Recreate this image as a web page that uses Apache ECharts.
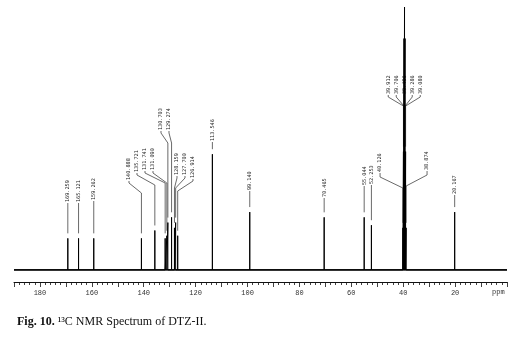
<!DOCTYPE html>
<html><head><meta charset="utf-8">
<script src="https://cdn.jsdelivr.net/npm/echarts@6/dist/echarts.min.js"></script>
<style>html,body{margin:0;padding:0;background:#fff}#c{width:528px;height:341px}</style>
</head><body><div id="c"></div>
<script>
// ---- data ----
const shifts = [169.259,165.121,159.262,140.888,135.721,131.741,131.090,130.703,129.274,128.159,127.700,126.914,113.546,99.140,70.465,55.044,52.253,40.126,39.912,39.706,39.496,39.286,39.080,38.874,20.167];
const intensities = [12,12,12,12,15,12,13,18,20,16,18,13,44,22,20,20,17,16,45,88,100,88,45,16,22];
const peakLabels = shifts.map(s => s.toFixed(3));
const axisTickLabels = [180,160,140,120,100,80,60,40,20];
const ppmMin = 0, ppmMax = 190;

// ---- label layout (style only) ----
const labelGroups = [
  {members:[0,1,2], anchorPpm:null, bottoms:[202,202,200]},
  {members:[3,4,5,6,7,8,9,10,11], anchorPpm:133.35, spacing:8, bottoms:[180,172,170,170,130,130,175,175,178], k1:3, k2:10},
  {members:[12], anchorPpm:null, bottoms:[141]},
  {members:[13], anchorPpm:null, bottoms:[190]},
  {members:[14], anchorPpm:null, bottoms:[197]},
  {members:[15,16], anchorPpm:null, bottoms:[185,184]},
  {members:[17,23], anchorPpm:39.87, spacing:47, bottoms:[172,170], k1:5, k2:11},
  {members:[18,19,20,21,22], anchorPpm:39.6, spacing:8, bottoms:[94,94,94,94,94], k1:3, k2:9},
  {members:[24], anchorPpm:null, bottoms:[194]}
];
const layoutByIdx = {};
labelGroups.forEach(g => {
  const n = g.members.length;
  g.members.forEach((m, i) => {
    layoutByIdx[m] = {
      anchorPpm: g.anchorPpm,
      offset: g.anchorPpm == null ? 0 : (i - (n - 1) / 2) * g.spacing,
      bottom: g.bottoms[i], k1: g.k1 || 0, k2: g.k2 || 0
    };
  });
});

// spectrum as stick peaks
const order = shifts.map((s, i) => i).sort((a, b) => shifts[b] - shifts[a]);
const spectrum = [[ppmMax, 0]];
order.forEach(i => { spectrum.push([shifts[i], 0], [shifts[i], intensities[i]], [shifts[i], 0]); });
spectrum.push([ppmMin, 0]);

const labelData = shifts.map((s, i) => [s, intensities[i], i]);

const chart = echarts.init(document.getElementById('c'), null, {renderer: 'canvas'});
chart.setOption({
  animation: false,
  backgroundColor: '#fff',
  grid: {left: 14, right: 21, top: 7, bottom: 59},
  xAxis: {
    type: 'value', min: ppmMin, max: ppmMax, inverse: true, interval: 10,
    axisLine: {show: true, onZero: false, lineStyle: {color: '#111', width: 1}},
    axisTick: {show: true, length: 5, lineStyle: {color: '#111', width: 0.8}},
    minorTick: {show: true, splitNumber: 5, length: 3, lineStyle: {color: '#111', width: 0.8}},
    splitLine: {show: false},
    axisLabel: {
      margin: 8, color: '#333', fontFamily: 'Liberation Mono', fontSize: 7,
      formatter: v => axisTickLabels.indexOf(v) >= 0 ? String(v) : ''
    }
  },
  yAxis: {type: 'value', min: -4.6, max: 100, show: false},
  graphic: [
    {type: 'text', left: 492, top: 289, style: {text: 'ppm', fontFamily: 'Liberation Mono', fontSize: 7, fill: '#333'}},
    {type: 'text', left: 17, top: 316, style: {
      text: '{b|Fig. 10.}{n| ¹³C NMR Spectrum of DTZ-II.}',
      fontFamily: 'Liberation Serif', fontSize: 12, fill: '#111',
      rich: {
        b: {fontFamily: 'Liberation Serif', fontWeight: 'bold', fontSize: 12, fill: '#111'},
        n: {fontFamily: 'Liberation Serif', fontWeight: 'normal', fontSize: 12, fill: '#111'}
      }
    }}
  ],
  series: [
    {type: 'line', data: [[ppmMax, 0], [ppmMin, 0]], showSymbol: false, silent: true,
     lineStyle: {color: '#222', width: 1.8}},
    {type: 'line', data: spectrum, showSymbol: false, silent: true,
     lineStyle: {color: '#000', width: 1}},
    {type: 'custom', data: labelData, clip: false, silent: true,
     encode: {x: 0, y: 1},
     renderItem: (params, api) => {
       const idx = api.value(2);
       const L = layoutByIdx[idx];
       const top = api.coord([api.value(0), api.value(1)]);
       const px = top[0], py = top[1];
       const lx = L.anchorPpm == null ? px : api.coord([L.anchorPpm, 0])[0] + L.offset;
       const gap = 5;
       let pts;
       if (L.anchorPpm == null) {
         pts = [[px, L.bottom + 1], [px, Math.max(L.bottom + 2, py - gap)]];
       } else {
         const ky = L.bottom + L.k1, dy = ky + L.k2;
         pts = [[lx, L.bottom + 1], [lx, ky], [px, dy]];
         if (py - gap > dy) pts.push([px, py - gap]);
       }
       return {type: 'group', children: [
         {type: 'polyline', shape: {points: pts}, style: {stroke: '#444', lineWidth: 0.8, fill: null}},
         {type: 'text', x: lx, y: L.bottom, rotation: Math.PI / 2,
          style: {text: peakLabels[idx], fontFamily: 'DejaVu Sans Mono', fontSize: 5.2, fill: '#222', align: 'left', verticalAlign: 'middle'}}
       ]};
     }}
  ]
});
</script></body></html>
